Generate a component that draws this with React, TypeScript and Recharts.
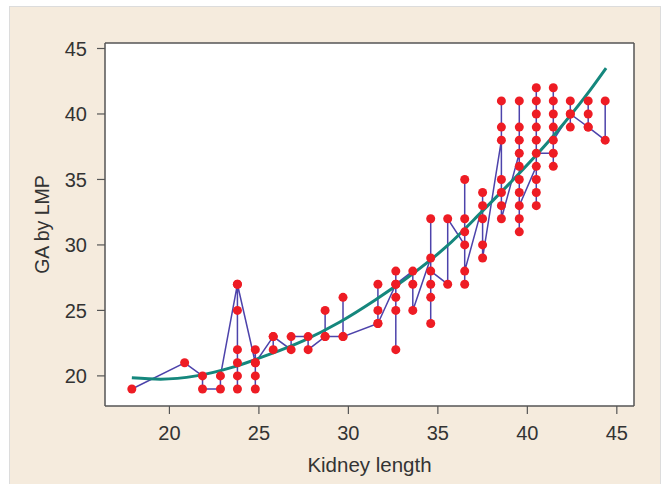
import React from 'react';
import { ComposedChart, Line, Scatter, XAxis, YAxis, CartesianGrid, Label } from 'recharts';

// Kidney length groups (x) and the GA-by-LMP values in the order the connecting line visits them
const KIDNEY_X = [
  17.9, 20.85, 21.85, 22.85, 23.8, 24.8, 25.8, 26.8, 27.75, 28.7, 29.7, 31.65, 32.65,
  33.6, 34.6, 35.55, 36.5, 37.5, 38.55, 39.55, 40.5, 41.45, 42.4, 43.4, 44.35,
];
const GA_SEQUENCES = [
  [19],
  [21],
  [20, 19],
  [19, 20],
  [27, 25, 22, 21, 20, 19, 27],
  [21, 22, 20, 19, 21],
  [23, 22, 23],
  [22, 23],
  [23, 22],
  [23, 25, 23],
  [23, 26, 23],
  [24, 25, 27, 24],
  [27, 28, 26, 25, 22, 27],
  [28, 27, 25],
  [29, 32, 27, 26, 24, 28],
  [27, 32],
  [30, 35, 32, 31, 27, 28],
  [33, 34, 32, 30, 29],
  [38, 41, 39, 35, 34, 33, 32],
  [37, 41, 39, 38, 36, 35, 34, 32, 31, 33],
  [36, 42, 41, 40, 39, 38, 35, 34, 33, 37],
  [37, 36, 42, 41, 40, 39, 38],
  [40, 41, 39, 40],
  [39, 41, 40, 39],
  [38, 41],
];

// Fitted curve
const CURVE_X = [17.9, 19.5, 21.5, 23.5, 25.5, 27.5, 29.5, 31.5, 33.5, 35.5, 37.5, 39.5, 41.5, 43.5, 44.4];
const CURVE_Y = [19.85, 19.75, 20.0, 20.65, 21.6, 22.7, 24.1, 25.8, 27.7, 29.9, 32.6, 35.4, 38.4, 41.8, 43.5];

const X_TICKS = [20, 25, 30, 35, 40, 45];
const Y_TICKS = [20, 25, 30, 35, 40, 45];
const X_DOMAIN: [number, number] = [16.4, 45.96];
const Y_DOMAIN: [number, number] = [17.7, 45.42];

const points = KIDNEY_X.flatMap((x, i) => GA_SEQUENCES[i].map((y) => ({ x, y })));
const curve = CURVE_X.map((x, i) => ({ x, y: CURVE_Y[i] }));

const FONT = '"Liberation Sans", Arial, Helvetica, sans-serif';

const Dot = (p: any) => <circle cx={p.cx} cy={p.cy} r={4.5} fill="#ee1c24" />;

export default function App() {
  return (
    <div style={{ position: 'fixed', left: 0, top: 0, width: 666, height: 484, background: '#ffffff', overflow: 'hidden' }}>
      <div
        style={{
          position: 'absolute', left: 9, top: 6, width: 652, height: 480,
          background: '#f5ebdd', border: '1px solid #dcdcdc', boxSizing: 'border-box',
        }}
      />
      <div style={{ position: 'absolute', left: 0, top: 0 }}>
        <ComposedChart width={666} height={484} margin={{ top: 43, right: 32, bottom: 18, left: 35 }}>
          <CartesianGrid
            fill="#ffffff"
            stroke="#555555"
            strokeWidth={1.5}
            horizontalCoordinatesGenerator={({ offset }: any) => [offset.top, offset.top + offset.height]}
            verticalCoordinatesGenerator={({ offset }: any) => [offset.left, offset.left + offset.width]}
          />
          <XAxis
            type="number"
            dataKey="x"
            domain={X_DOMAIN}
            ticks={X_TICKS}
            allowDataOverflow
            axisLine={false}
            tickLine={{ stroke: '#555555', strokeWidth: 1.2 }}
            tickSize={8}
            tickMargin={12}
            height={60}
            tick={{ fill: '#333333', fontSize: 20, fontFamily: FONT }}
          >
            <Label value="Kidney length" position="insideBottom" offset={-6} fill="#333333" fontSize={20.5} fontFamily={FONT} />
          </XAxis>
          <YAxis
            type="number"
            dataKey="y"
            domain={Y_DOMAIN}
            ticks={Y_TICKS}
            allowDataOverflow
            axisLine={false}
            tickLine={{ stroke: '#555555', strokeWidth: 1.2 }}
            tickSize={8}
            tickMargin={10}
            width={70}
            tick={{ fill: '#333333', fontSize: 20, fontFamily: FONT }}
          >
            <Label
              value="GA by LMP"
              angle={-90}
              position="insideLeft"
              offset={7}
              fill="#333333"
              fontSize={19.5}
              fontFamily={FONT}
              style={{ textAnchor: 'middle' }}
            />
          </YAxis>
          <Line
            data={points}
            dataKey="y"
            type="linear"
            stroke="#4d43ab"
            strokeWidth={1.5}
            dot={false}
            activeDot={false}
            isAnimationActive={false}
          />
          <Line
            data={curve}
            dataKey="y"
            type="monotone"
            stroke="#15877d"
            strokeWidth={3}
            dot={false}
            activeDot={false}
            isAnimationActive={false}
          />
          <Scatter data={points} dataKey="y" shape={Dot} isAnimationActive={false} />
        </ComposedChart>
      </div>
    </div>
  );
}
